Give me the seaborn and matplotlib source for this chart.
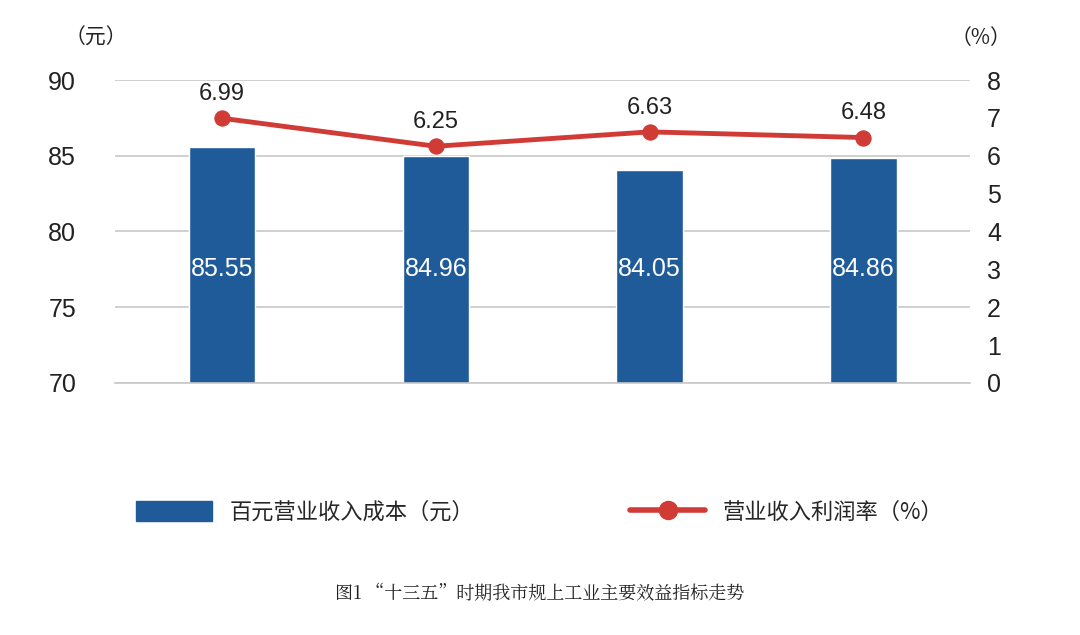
import numpy as np
import pandas as pd
import matplotlib
matplotlib.use("Agg")
import matplotlib.pyplot as plt
import matplotlib.patches as mpatches
from matplotlib.lines import Line2D
import seaborn as sns

# ── Data ──────────────────────────────────────────────
periods = ["2016", "2017", "2018", "2019"]
cost_per_100 = [85.55, 84.96, 84.05, 84.86]
profit_rate = [6.99, 6.25, 6.63, 6.48]

BAR_C = "#1f5b98"
LINE_C = "#d13b36"
GRID_C = "#c8c8c8"
TEXT_C = "#222222"
NUM_FONT = ["Liberation Sans", "DejaVu Sans"]

sns.set_theme(style="white")
plt.rcParams["font.family"] = ["Noto Sans CJK SC", "DejaVu Sans"]

fig = plt.figure(figsize=(10.8, 6.35), dpi=100, facecolor="white")
ax = fig.add_axes([0.1065, 0.397, 0.792, 0.477])

df = pd.DataFrame({"period": periods, "cost": cost_per_100, "rate": profit_rate})
sns.barplot(data=df, x="period", y="cost", color=BAR_C, width=0.31,
            saturation=1, ax=ax, zorder=2)
ax.set_ylim(70, 90)
ax.set_xlim(-0.5, 3.5)
ax.set_yticks([70, 75, 80, 85, 90])
ax.yaxis.grid(True, color=GRID_C, linewidth=1.2, zorder=0)
ax.set_xticks([])
ax.set_xlabel("")
ax.set_ylabel("")
for s in ["top", "left", "right"]:
    ax.spines[s].set_visible(False)
ax.spines["bottom"].set_color(GRID_C)
ax.spines["bottom"].set_linewidth(1.2)
ax.tick_params(axis="y", labelsize=18, colors=TEXT_C, length=0, pad=28)
for i, v in enumerate(cost_per_100):
    ax.text(i, 77.5, f"{v:.2f}", color="white", fontsize=18,
            ha="center", va="center", family=NUM_FONT)

ax2 = ax.twinx()
sns.lineplot(x=np.arange(len(periods)), y=profit_rate, ax=ax2, color=LINE_C,
             linewidth=3.5, marker="o", markersize=11, markeredgecolor=LINE_C)
ax2.set_ylim(0, 8)
ax2.set_xlim(-0.5, 3.5)
ax2.set_yticks(range(0, 9))
ax2.tick_params(axis="y", labelsize=18, colors=TEXT_C, length=0, pad=12)
for s in ax2.spines.values():
    s.set_visible(False)
ax2.grid(False)
for i, v in enumerate(profit_rate):
    ax2.text(i, v + 0.35, f"{v:.2f}", color=TEXT_C, fontsize=17,
             ha="center", va="bottom", family=NUM_FONT)

for lab in ax.get_yticklabels() + ax2.get_yticklabels():
    lab.set_family(NUM_FONT)

fig.text(0.06, 0.94, "（元）", fontsize=15, color=TEXT_C, ha="left", va="center")
fig.text(0.88, 0.94, "（%）", fontsize=15, color=TEXT_C, ha="left", va="center")

handles = [mpatches.Patch(color=BAR_C, label="百元营业收入成本（元）"),
           Line2D([0], [0], color=LINE_C, linewidth=4, marker="o",
                  markersize=13, label="营业收入利润率（%）")]
fig.legend(handles=handles, loc="center", bbox_to_anchor=(0.5, 0.193), ncol=2,
           frameon=False, fontsize=16, columnspacing=7, handlelength=3.4,
           handleheight=1.0)

fig.text(0.5, 0.065, "图1 “十三五”时期我市规上工业主要效益指标走势", fontsize=13,
         ha="center", va="center", color=TEXT_C,
         family=["Noto Serif CJK SC", "Noto Sans CJK SC", "DejaVu Sans"])

fig.savefig("out.png", dpi=100, facecolor="white")
